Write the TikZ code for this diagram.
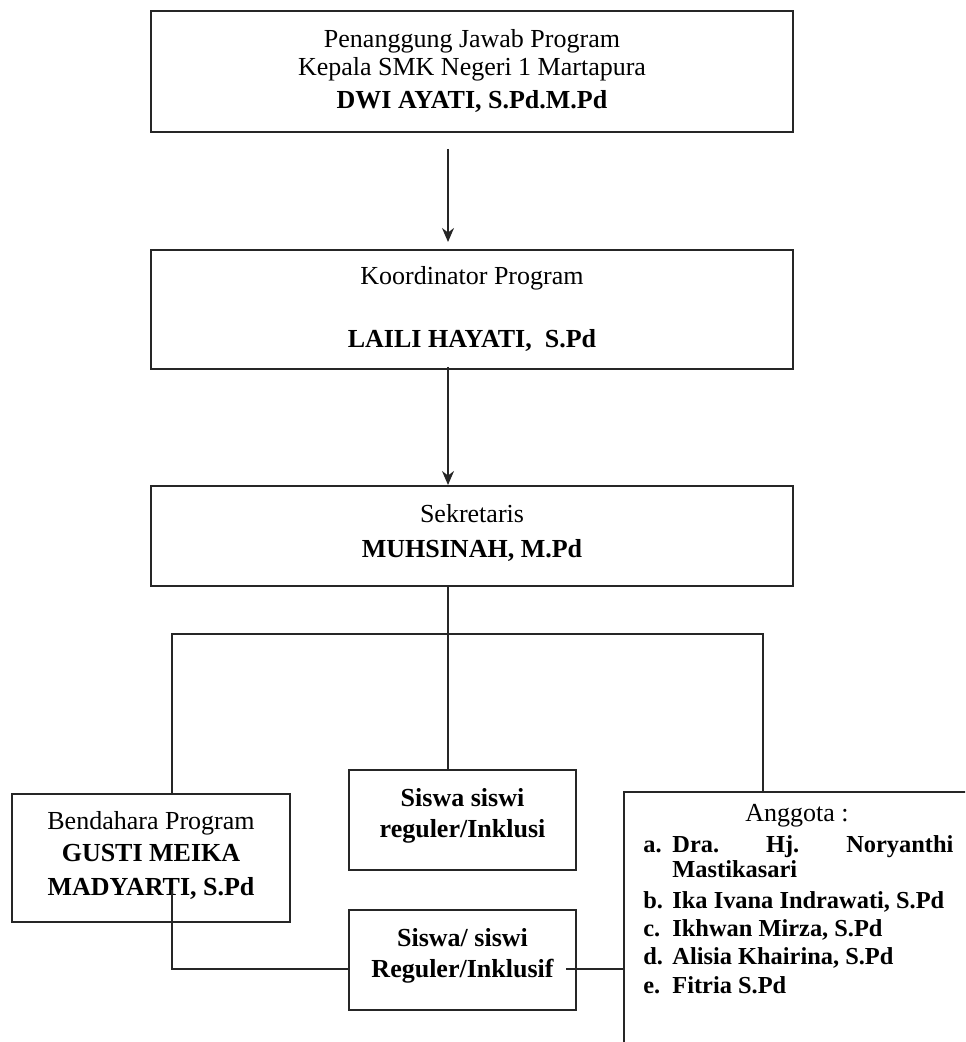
\documentclass[tikz,border=0pt]{standalone}
\usepackage{fontspec}
\setmainfont{Liberation Serif}
\usetikzlibrary{arrows.meta,calc}
\begin{document}
\begin{tikzpicture}[x=0.5pt,y=-0.5pt,
 box/.style={draw=black!85,line width=1pt,rectangle,inner sep=0pt},
 conn/.style={draw=black!85,line width=0.8pt},
 arr/.style={conn,-{Stealth[length=7pt,width=6pt]}},
 tx/.style={anchor=mid,inner sep=0pt,yshift=-2.5pt,font=\fontsize{13}{15}\selectfont},
 tb/.style={anchor=mid,inner sep=0pt,yshift=-2.5pt,font=\fontsize{13}{15}\selectfont\bfseries},
 tl/.style={anchor=mid west,inner sep=0pt,yshift=-2.5pt,font=\fontsize{12.2}{14}\selectfont\bfseries},
]
\useasboundingbox (0,0) rectangle (965,1042);
\clip (0,0) rectangle (965,1042);
% boxes
\node[box,minimum width=321pt,minimum height=60.5pt] (b1) at (472,71.5) {};
\node[box,minimum width=321pt,minimum height=59.5pt] (b2) at (472,309.5) {};
\node[box,minimum width=321pt,minimum height=50pt] (b3) at (472,536) {};
\node[box,minimum width=139pt,minimum height=64pt] (bend) at (151,858) {};
\node[box,minimum width=113.5pt,minimum height=50pt] (sis1) at (462.5,820) {};
\node[box,minimum width=113.5pt,minimum height=50pt] (sis2) at (462.5,960) {};
\node[box,minimum width=178pt,minimum height=134pt] (ang) at (802,926) {};
% texts
\node[tx] (t1a) at (472,38) {Penanggung Jawab Program};
\node[tx] (t1b) at (472,66) {Kepala SMK Negeri 1 Martapura};
\node[tb] (t1c) at (472,99) {DWI AYATI, S.Pd.M.Pd};
\node[tx] (t2a) at (472,275) {Koordinator Program};
\node[tb] (t2b) at (472,338) {LAILI HAYATI,\ \ S.Pd};
\node[tx] (t3a) at (472,513) {Sekretaris};
\node[tb] (t3b) at (472,548) {MUHSINAH, M.Pd};
\node[tx] (t4a) at (151,820) {Bendahara Program};
\node[tb] (t4b) at (151,852) {GUSTI MEIKA};
\node[tb] (t4c) at (151,886) {MADYARTI, S.Pd};
\node[tb] (t5a) at (462.5,797) {Siswa siswi};
\node[tb] (t5b) at (462.5,828) {reguler/Inklusi};
\node[tb] (t6a) at (462.5,937) {Siswa/ siswi};
\node[tb] (t6b) at (462.5,968) {Reguler/Inklusif};
\node[tx] (t7) at (797,812) {Anggota :};
\node[tl] (la) at (643,843) {a.};
\node[tl] (ia) at (672,843) {\makebox[140.5pt][s]{Dra.\hfill Hj.\hfill Noryanthi}};
\node[tl] (ia2) at (672,868) {Mastikasari};
\node[tl] (lb) at (643,899) {b.};
\node[tl] (ib) at (672,899) {Ika Ivana Indrawati, S.Pd};
\node[tl] (lc) at (643,927) {c.};
\node[tl] (ic) at (672,927) {Ikhwan Mirza, S.Pd};
\node[tl] (ld) at (643,955) {d.};
\node[tl] (id) at (672,955) {Alisia Khairina, S.Pd};
\node[tl] (le) at (643,984) {e.};
\node[tl] (ie) at (672,984) {Fitria S.Pd};
% connectors
\coordinate (ax) at (448,0);
\draw[arr] ([yshift=-8pt]b1.south -| ax) -- ([yshift=3.5pt]b2.north -| ax);
\draw[arr] ([yshift=1.5pt]b2.south -| ax) -- (b3.north -| ax);
\draw[conn] (b3.south -| ax) -- (sis1.north -| ax);
\coordinate (lx) at (172,634);
\coordinate (rx) at (763,634);
\draw[conn] (bend.north -| lx) -- (lx) -- (rx) -- (ang.north -| rx);
\coordinate (bl) at (172,890);
\draw[conn] (bl) |- ([yshift=-4.5pt]sis2.west);
\coordinate (re) at ([xshift=-5.5pt,yshift=-4.5pt]sis2.east);
\draw[conn] (re) -- (ang.west |- re);
\end{tikzpicture}
\end{document}
